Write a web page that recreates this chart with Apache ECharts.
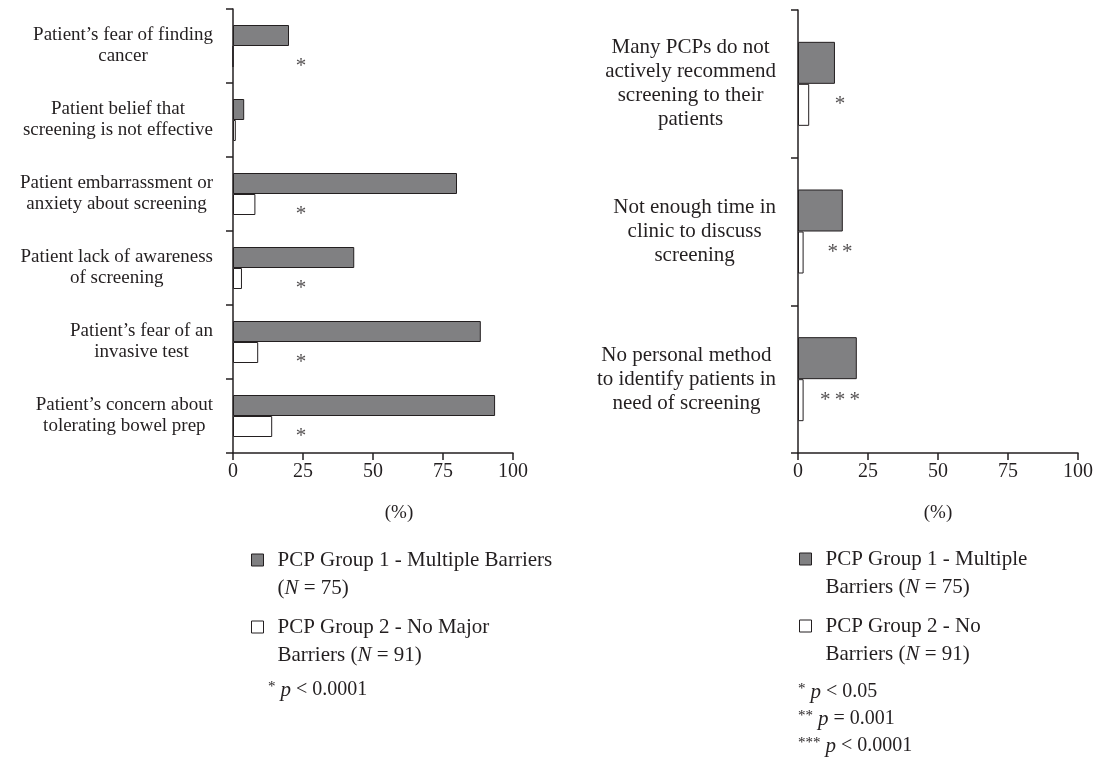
<!DOCTYPE html>
<html>
<head>
<meta charset="utf-8">
<script src="https://cdn.jsdelivr.net/npm/echarts@6/dist/echarts.min.js"></script>
<style>
  html, body { margin: 0; padding: 0; background: #fff; }
  #chart { width: 1098px; height: 771px; }
</style>
</head>
<body>
<div id="chart"></div>
<script>
// left panel: patient barriers
const leftCategories = [
  'Patient\u2019s fear of finding\ncancer',
  'Patient belief that\nscreening is not effective',
  'Patient embarrassment or\nanxiety about screening',
  'Patient lack of awareness\nof screening',
  'Patient\u2019s fear of an\ninvasive test',
  'Patient\u2019s concern about\ntolerating bowel prep'
]
const leftGroup1 = [20, 4, 80, 43.3, 88.5, 93.6]
const leftGroup2 = [0, 1, 8, 3.2, 9, 14]
const leftStars = ['*', '', '*', '*', '*', '*']
const leftStarAt = 24.3

// right panel: PCP barriers
const rightCategories = [
  'Many PCPs do not\nactively recommend\nscreening to their\npatients',
  'Not enough time in\nclinic to discuss\nscreening',
  'No personal method\nto identify patients in\nneed of screening'
]
const rightGroup1 = [13.2, 16, 21]
const rightGroup2 = [4, 2, 2]
const rightStars = ['*', '*\u2009*', '*\u2009*\u2009*']
const rightStarAt = 15

const xTicks = [0, 25, 50, 75, 100]
const seriesNames = ['PCP Group 1', 'PCP Group 2']
const leftLegendText = {
  'PCP Group 1': 'PCP Group 1 - Multiple Barriers\n({i|N} = 75)',
  'PCP Group 2': 'PCP Group 2 - No Major\nBarriers ({i|N} = 91)'
}
const rightLegendText = {
  'PCP Group 1': 'PCP Group 1 - Multiple\nBarriers ({i|N} = 75)',
  'PCP Group 2': 'PCP Group 2 - No\nBarriers ({i|N} = 91)'
}
const leftNotes = ['{s|*} {i|p} < 0.0001']
const rightNotes = ['{s|*} {i|p} < 0.05', '{s|**} {i|p} = 0.001', '{s|***} {i|p} < 0.0001']

const font = '"Liberation Serif", "DejaVu Serif", serif'
const ink = '#231f20'
const grey = '#808082'

const chart = echarts.init(document.getElementById('chart'))

function centered(value) {
  return value.split('\n').map(s => '{c|' + s + '}').join('\n')
}

function catAxis(idx, cats, size, lh, margin) {
  return {
    type: 'category',
    gridIndex: idx,
    data: cats,
    inverse: true,
    axisLine: { show: true, lineStyle: { color: ink, width: 1.5 } },
    axisTick: { show: true, alignWithLabel: false, length: 7, lineStyle: { color: ink, width: 1.5 } },
    axisLabel: {
      interval: 0,
      margin: margin,
      align: 'right',
      formatter: centered,
      rich: { c: { align: 'center', fontFamily: font, fontSize: size, lineHeight: lh, color: ink } }
    }
  }
}

function valAxis(idx, namePad) {
  return {
    type: 'value',
    gridIndex: idx,
    min: 0,
    max: 100,
    interval: 25,
    splitLine: { show: false },
    axisLine: { show: true, lineStyle: { color: ink, width: 1.5 } },
    axisTick: { show: true, length: 7, lineStyle: { color: ink, width: 1.5 } },
    axisLabel: {
      margin: 9,
      fontFamily: font,
      fontSize: 20,
      color: ink,
      formatter: v => xTicks.includes(v) ? String(v) : ''
    },
    name: '(%)',
    nameLocation: 'middle',
    nameGap: 51,
    nameTextStyle: { fontFamily: font, fontSize: 19, color: ink, padding: namePad }
  }
}

function bars(idx, name, values, fill, width) {
  return {
    type: 'bar',
    name: name,
    xAxisIndex: idx,
    yAxisIndex: idx,
    data: values,
    barWidth: width,
    barGap: '0%',
    itemStyle: { color: fill, borderColor: ink, borderWidth: 1 },
    silent: true
  }
}

function stars(idx, marks, at, dy, size) {
  return {
    type: 'scatter',
    xAxisIndex: idx,
    yAxisIndex: idx,
    symbolSize: 1,
    itemStyle: { color: 'rgba(0,0,0,0)' },
    data: marks.map((m, i) => [at, i, m]),
    label: {
      show: true,
      position: 'inside',
      offset: [0, dy],
      formatter: p => p.value[2],
      fontFamily: font,
      fontSize: size,
      color: ink
    },
    silent: true
  }
}

function legend(left, top, texts) {
  return {
    orient: 'vertical',
    left: left,
    top: top,
    padding: 0,
    icon: 'rect',
    itemWidth: 12,
    itemHeight: 12,
    itemGap: -17,
    selectedMode: false,
    data: [
      { name: seriesNames[0], itemStyle: { color: grey, borderColor: ink, borderWidth: 1 } },
      { name: seriesNames[1], itemStyle: { color: '#fff', borderColor: ink, borderWidth: 1 } }
    ],
    formatter: n => texts[n],
    textStyle: {
      fontFamily: font,
      fontSize: 21,
      lineHeight: 28,
      color: ink,
      padding: [28, 0, 0, 9],
      rich: { i: { fontFamily: font, fontSize: 21, lineHeight: 28, fontStyle: 'italic', color: ink } }
    }
  }
}

function notes(x, y0, step, lines) {
  return lines.map((t, k) => ({
    type: 'text',
    x: x,
    y: y0 + k * step,
    style: {
      text: t,
      verticalAlign: 'middle',
      fontFamily: font,
      fontSize: 20,
      fill: ink,
      rich: {
        s: { fontFamily: font, fontSize: 15, fill: ink, padding: [0, 0, 6, 0] },
        i: { fontFamily: font, fontSize: 21, fontStyle: 'italic', fill: ink }
      }
    }
  }))
}

chart.setOption({
  animation: false,
  backgroundColor: '#fff',
  grid: [
    { left: 233, top: 9, width: 280, height: 444 },
    { left: 798, top: 10, width: 280, height: 443 }
  ],
  xAxis: [valAxis(0, [0, 0, 0, 52]), valAxis(1, 0)],
  yAxis: [catAxis(0, leftCategories, 19, 21, 20), catAxis(1, rightCategories, 21, 24, 22)],
  legend: [legend(251, 518, leftLegendText), legend(799, 517, rightLegendText)],
  series: [
    bars(0, seriesNames[0], leftGroup1, grey, 21),
    bars(0, seriesNames[1], leftGroup2, '#fff', 21),
    stars(0, leftStars, leftStarAt, 20, 21),
    bars(1, seriesNames[0], rightGroup1, grey, 42),
    bars(1, seriesNames[1], rightGroup2, '#fff', 42),
    stars(1, rightStars, rightStarAt, 21, 21)
  ],
  graphic: notes(268, 690, 0, leftNotes).concat(notes(798, 692, 27, rightNotes))
})
</script>
</body>
</html>
